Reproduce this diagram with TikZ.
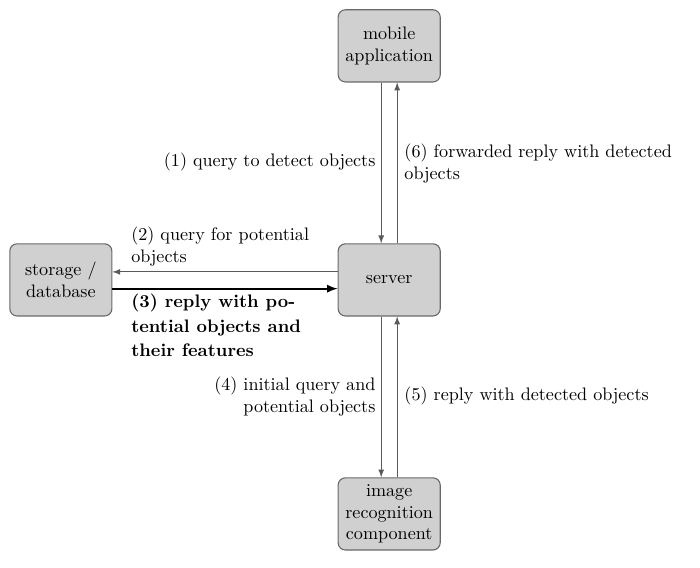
\documentclass[tikz,border=0pt]{standalone}
\usepackage{mathtools, amssymb, tikz}
\usetikzlibrary{arrows}

\definecolor{boxfill}{RGB}{208,208,208}
\definecolor{boxline}{RGB}{105,105,105}
\definecolor{thinline}{RGB}{90,90,90}

\tikzset{
  part/.style={draw=boxline, fill=boxfill, rounded corners=4pt, align=center,
    minimum width=1.98cm, minimum height=1.40cm, inner sep=1pt, line width=0.6pt},
  msg/.style={-latex, draw=thinline, line width=0.5pt},
  lbl/.style={inner sep=0pt}
}

\begin{document}
\begin{tikzpicture}
                              \useasboundingbox (0,0) rectangle (13.58,-11.0);

                              \node[part] (M) at (7.55,-0.89) {mobile\\application};
                              \node[part] (S) at (7.55,-5.43) {server};
                              \node[part] (I) at (7.55,-9.97) {image\\recognition\\component};
                              \node[part] (D) at (1.18,-5.43) {storage /\\database};

                              \draw[msg] ([xshift=-0.155cm]M.south) -- ([xshift=-0.155cm]S.north);
                              \draw[msg] ([xshift=0.155cm]S.north) -- ([xshift=0.155cm]M.south);
                              \draw[msg] ([yshift=0.155cm]S.west) -- ([yshift=0.155cm]D.east);
                              \draw[-latex, line width=1pt] ([yshift=-0.17cm]D.east) -- ([yshift=-0.17cm]S.west);
                              \draw[msg] ([xshift=-0.155cm]S.south) -- ([xshift=-0.155cm]I.north);
                              \draw[msg] ([xshift=0.155cm]I.north) -- ([xshift=0.155cm]S.south);

                              \node[lbl, anchor=east] (L1) at (7.29,-3.14) {(1) query to detect objects};
                              \node[lbl, anchor=west, align=left] (L6) at (7.84,-3.17) {(6) forwarded reply with detected\\objects};
                              \node[lbl, anchor=west, align=left] (L2) at (2.54,-4.78) {(2) query for potential\\objects};
                              \node[lbl, anchor=west, align=left, font=\bfseries] (L3) at (2.54,-6.31) {(3) reply with po-\\[1.5pt]tential objects and\\[1.5pt]their features};
                              \node[lbl, anchor=east, align=right] (L4) at (7.29,-7.70) {(4) initial query and\\potential objects};
                              \node[lbl, anchor=west] (L5) at (7.84,-7.68) {(5) reply with detected objects};
                      \end{tikzpicture}
\end{document}
